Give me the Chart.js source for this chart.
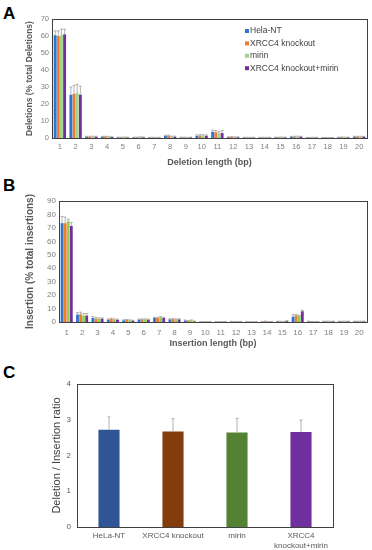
<!DOCTYPE html>
<html>
<head>
<meta charset="utf-8">
<script src="https://cdn.jsdelivr.net/npm/chart.js@4.4.1/dist/chart.umd.min.js"></script>
<style>
  body { margin: 0; background: #fff; width: 372px; height: 550px; position: relative; overflow: hidden; font-family: 'Liberation Sans', Arial, sans-serif; }
  canvas { position: absolute; left: 0; }
  .panel { position: absolute; left: 3px; font-weight: bold; font-size: 17px; color: #000; line-height: 1; }
</style>
</head>
<body>
<div class="panel" style="top:5px">A</div>
<div class="panel" style="top:177px">B</div>
<div class="panel" style="top:364px">C</div>
<canvas id="delChart" width="372" height="175" style="top:0"></canvas>
<canvas id="insChart" width="372" height="180" style="top:175px"></canvas>
<canvas id="ratioChart" width="372" height="195" style="top:355px"></canvas>
<script>
// lengths 1..20 bp
const lengthLabels = ['1','2','3','4','5','6','7','8','9','10','11','12','13','14','15','16','17','18','19','20'];
const groupNames = ['Hela-NT', 'XRCC4 knockout', 'mirin', 'XRCC4 knockout+mirin'];

// panel A - deletions (% of total)
const delHela  = [60.5, 25.5, 0.8, 0.8, 0.4, 0.4, 0.3, 1.3, 0.4, 1.3, 3.6, 0.5, 0.3, 0.3, 0.4, 0.8, 0.3, 0.2, 0.4, 0.8];
const delXrcc4 = [60.0, 26.0, 0.8, 0.8, 0.4, 0.4, 0.3, 1.4, 0.4, 1.5, 3.4, 0.6, 0.3, 0.3, 0.4, 0.8, 0.3, 0.2, 0.5, 0.8];
const delMirin = [60.5, 26.5, 0.9, 0.8, 0.5, 0.6, 0.3, 0.8, 0.3, 1.4, 2.8, 0.5, 0.3, 0.3, 0.5, 0.9, 0.3, 0.2, 0.4, 0.8];
const delCombo = [61.0, 25.5, 0.8, 0.6, 0.4, 0.5, 0.3, 0.8, 0.4, 1.3, 2.9, 0.5, 0.3, 0.3, 0.4, 0.8, 0.3, 0.2, 0.4, 0.8];
const delErrHela  = [2.5, 4.5, 0.2, 0.2, 0.1, 0.1, 0.1, 0.3, 0.1, 0.5, 1.0, 0.2, 0.1, 0.1, 0.1, 0.2, 0.1, 0.1, 0.1, 0.2];
const delErrXrcc4 = [3.0, 5.0, 0.2, 0.2, 0.1, 0.1, 0.1, 0.3, 0.1, 0.5, 1.0, 0.2, 0.1, 0.1, 0.1, 0.2, 0.1, 0.1, 0.1, 0.2];
const delErrMirin = [3.5, 5.0, 0.2, 0.2, 0.1, 0.1, 0.1, 0.3, 0.1, 0.5, 1.0, 0.2, 0.1, 0.1, 0.1, 0.2, 0.1, 0.1, 0.1, 0.2];
const delErrCombo = [3.0, 5.0, 0.2, 0.2, 0.1, 0.1, 0.1, 0.3, 0.1, 0.5, 1.5, 0.2, 0.1, 0.1, 0.1, 0.2, 0.1, 0.1, 0.1, 0.2];

// panel B - insertions (% of total)
const insHela  = [73.5, 5.5, 3.0, 1.8, 1.3, 1.8, 3.0, 2.0, 1.2, 0.2, 0.2, 0.4, 0.2, 0.3, 0.5, 4.0, 0.5, 0.5, 0.5, 0.5];
const insXrcc4 = [73.5, 5.8, 2.5, 2.3, 1.6, 2.0, 3.0, 2.2, 0.8, 0.2, 0.2, 0.3, 0.2, 0.6, 0.4, 5.0, 0.3, 0.5, 0.5, 0.5];
const insMirin = [75.0, 4.8, 2.5, 1.8, 1.3, 2.0, 3.5, 2.0, 1.2, 0.2, 0.2, 0.3, 0.2, 0.3, 0.4, 4.5, 0.3, 0.5, 0.5, 0.5];
const insCombo = [71.5, 4.8, 2.5, 1.6, 1.0, 1.8, 3.0, 2.0, 0.5, 0.2, 0.2, 0.3, 0.2, 0.3, 0.8, 8.0, 0.3, 0.5, 0.5, 0.5];
const insErrHela  = [5.0, 1.5, 1.0, 0.5, 0.3, 0.3, 0.5, 0.3, 0.3, 0.1, 0.1, 0.1, 0.1, 0.1, 0.1, 1.5, 0.1, 0.1, 0.1, 0.1];
const insErrXrcc4 = [4.5, 1.5, 1.0, 0.5, 0.3, 0.3, 0.5, 0.3, 0.3, 0.1, 0.1, 0.1, 0.1, 0.1, 0.1, 0.5, 0.1, 0.1, 0.1, 0.1];
const insErrMirin = [1.5, 1.5, 0.5, 0.5, 0.3, 0.3, 0.5, 0.3, 0.3, 0.1, 0.1, 0.1, 0.1, 0.1, 0.1, 0.5, 0.1, 0.1, 0.1, 0.1];
const insErrCombo = [2.5, 1.5, 0.5, 0.5, 0.3, 0.3, 0.5, 0.3, 0.2, 0.1, 0.1, 0.1, 0.1, 0.1, 0.1, 0.8, 0.1, 0.1, 0.1, 0.1];

// panel C - deletion / insertion ratio
const ratioLabels = ['HeLa-NT', 'XRCC4 knockout', 'mirin', ['XRCC4', 'knockout+mirin']];
const ratioValues = [2.72, 2.67, 2.64, 2.66];
const ratioErrors = [0.36, 0.36, 0.40, 0.33];

const FONT = "'Liberation Sans', Arial, sans-serif";
Chart.defaults.font.family = FONT;

// upper error bars, read from dataset.errorBars
const errorBarPlugin = {
  id: 'errorBars',
  afterDatasetsDraw(chart) {
    const ctx = chart.ctx;
    const yScale = chart.scales.y;
    ctx.save();
    ctx.strokeStyle = '#A0A0A0';
    ctx.lineWidth = 0.8;
    chart.data.datasets.forEach((ds, di) => {
      if (!ds.errorBars) return;
      const meta = chart.getDatasetMeta(di);
      meta.data.forEach((bar, i) => {
        const top = yScale.getPixelForValue(ds.data[i] + ds.errorBars[i]);
        const cap = ds.capWidth || 1.5;
        ctx.beginPath();
        ctx.moveTo(bar.x, bar.y);
        ctx.lineTo(bar.x, top);
        ctx.moveTo(bar.x - cap, top);
        ctx.lineTo(bar.x + cap, top);
        ctx.stroke();
      });
    });
    ctx.restore();
  }
};

// box around the plot area
const framePlugin = {
  id: 'frame',
  afterDraw(chart) {
    const a = chart.chartArea;
    const ctx = chart.ctx;
    ctx.save();
    ctx.strokeStyle = '#404040';
    ctx.lineWidth = 1;
    ctx.strokeRect(Math.round(a.left) + 0.5, Math.round(a.top) + 0.5, Math.round(a.right - a.left), Math.round(a.bottom - a.top));
    ctx.restore();
  }
};

// small legend inside panel A
const insideLegend = {
  id: 'insideLegend',
  afterDraw(chart) {
    const ctx = chart.ctx;
    ctx.save();
    ctx.font = '8.5px ' + FONT;
    ctx.textBaseline = 'middle';
    chart.data.datasets.forEach((ds, i) => {
      const y = 31 + i * 12.4;
      ctx.fillStyle = ds.backgroundColor;
      ctx.fillRect(245, y - 2, 4, 4);
      ctx.fillStyle = '#404040';
      ctx.fillText(ds.label, 250, y);
    });
    ctx.restore();
  }
};

function groupedBars(canvasId, cfg) {
  const colors = ['#2F75CF', '#F07C2E', cfg.green, '#7030A0'];
  const errs = cfg.errors;
  return new Chart(document.getElementById(canvasId), {
    type: 'bar',
    data: {
      labels: lengthLabels,
      datasets: cfg.series.map((s, i) => ({
        label: groupNames[i],
        data: s,
        errorBars: errs[i],
        backgroundColor: colors[i],
        categoryPercentage: 0.8,
        barPercentage: 0.92
      }))
    },
    options: {
      responsive: false,
      animation: false,
      devicePixelRatio: 1,
      layout: { padding: cfg.padding },
      plugins: { legend: { display: false }, tooltip: { enabled: false } },
      scales: {
        x: {
          grid: { display: false, drawTicks: false },
          border: { display: false },
          ticks: { color: '#7F7F7F', font: { size: cfg.tickSize }, padding: cfg.xTickPad, maxRotation: 0, autoSkip: false },
          title: { display: true, text: cfg.xTitle, color: '#595959', font: { size: cfg.xTitleSize, weight: 'bold' }, padding: { top: 0, bottom: cfg.xTitlePad } },
          afterFit(scale) { scale.height = cfg.xHeight; }
        },
        y: {
          min: 0, max: cfg.yMax,
          grid: { display: false, drawTicks: false },
          border: { display: false },
          ticks: { stepSize: 10, color: '#7F7F7F', font: { size: cfg.tickSize }, padding: 3 },
          title: { display: true, text: cfg.yTitle, color: '#595959', font: { size: cfg.yTitleSize, weight: 'bold' }, padding: { top: 1, bottom: 0 } },
          afterFit(scale) { scale.width = cfg.yWidth; }
        }
      }
    },
    plugins: cfg.legend ? [errorBarPlugin, framePlugin, insideLegend] : [errorBarPlugin, framePlugin]
  });
}

groupedBars('delChart', {
  series: [delHela, delXrcc4, delMirin, delCombo],
  errors: [delErrHela, delErrXrcc4, delErrMirin, delErrCombo],
  green: '#A9D18E',
  yMax: 70,
  yTitle: 'Deletions (% total Deletions)',
  xTitle: 'Deletion length (bp)',
  yTitleSize: 8.5, xTitleSize: 9, tickSize: 7.5,
  padding: { top: 19, right: 5, left: 24, bottom: 0 },
  yWidth: 28, xHeight: 37, xTickPad: 4, xTitlePad: 7,
  legend: true
});

groupedBars('insChart', {
  series: [insHela, insXrcc4, insMirin, insCombo],
  errors: [insErrHela, insErrXrcc4, insErrMirin, insErrCombo],
  green: '#92D050',
  yMax: 90,
  yTitle: 'Insertion (% total insertions)',
  xTitle: 'Insertion length (bp)',
  yTitleSize: 10, xTitleSize: 9, tickSize: 8,
  padding: { top: 26, right: 5, left: 23, bottom: 0 },
  yWidth: 36, xHeight: 33, xTickPad: 6, xTitlePad: 6,
  legend: false
});

new Chart(document.getElementById('ratioChart'), {
  type: 'bar',
  data: {
    labels: ratioLabels,
    datasets: [{
      label: 'Deletion / Insertion ratio',
      data: ratioValues,
      errorBars: ratioErrors,
      capWidth: 1.5,
      backgroundColor: ['#2F5597', '#843C0C', '#548235', '#7030A0'],
      categoryPercentage: 1,
      barPercentage: 0.33
    }]
  },
  options: {
    responsive: false,
    animation: false,
    devicePixelRatio: 1,
    layout: { padding: { top: 29, right: 39, left: 49, bottom: 0 } },
    plugins: { legend: { display: false }, tooltip: { enabled: false } },
    scales: {
      x: {
        grid: { display: false, drawTicks: false },
        border: { display: false },
        ticks: { color: '#595959', font: { size: 8 }, padding: 4, maxRotation: 0, autoSkip: false },
        afterFit(scale) { scale.height = 23; }
      },
      y: {
        min: 0, max: 4,
        grid: { display: false, drawTicks: false },
        border: { display: false },
        ticks: { stepSize: 1, color: '#595959', font: { size: 8 }, padding: 6 },
        title: { display: true, text: 'Deletion / Insertion ratio', color: '#404040', font: { size: 11 }, padding: { top: 1, bottom: 0 } },
        afterFit(scale) { scale.width = 28; }
      }
    }
  },
  plugins: [errorBarPlugin, framePlugin]
});
</script>
</body>
</html>
